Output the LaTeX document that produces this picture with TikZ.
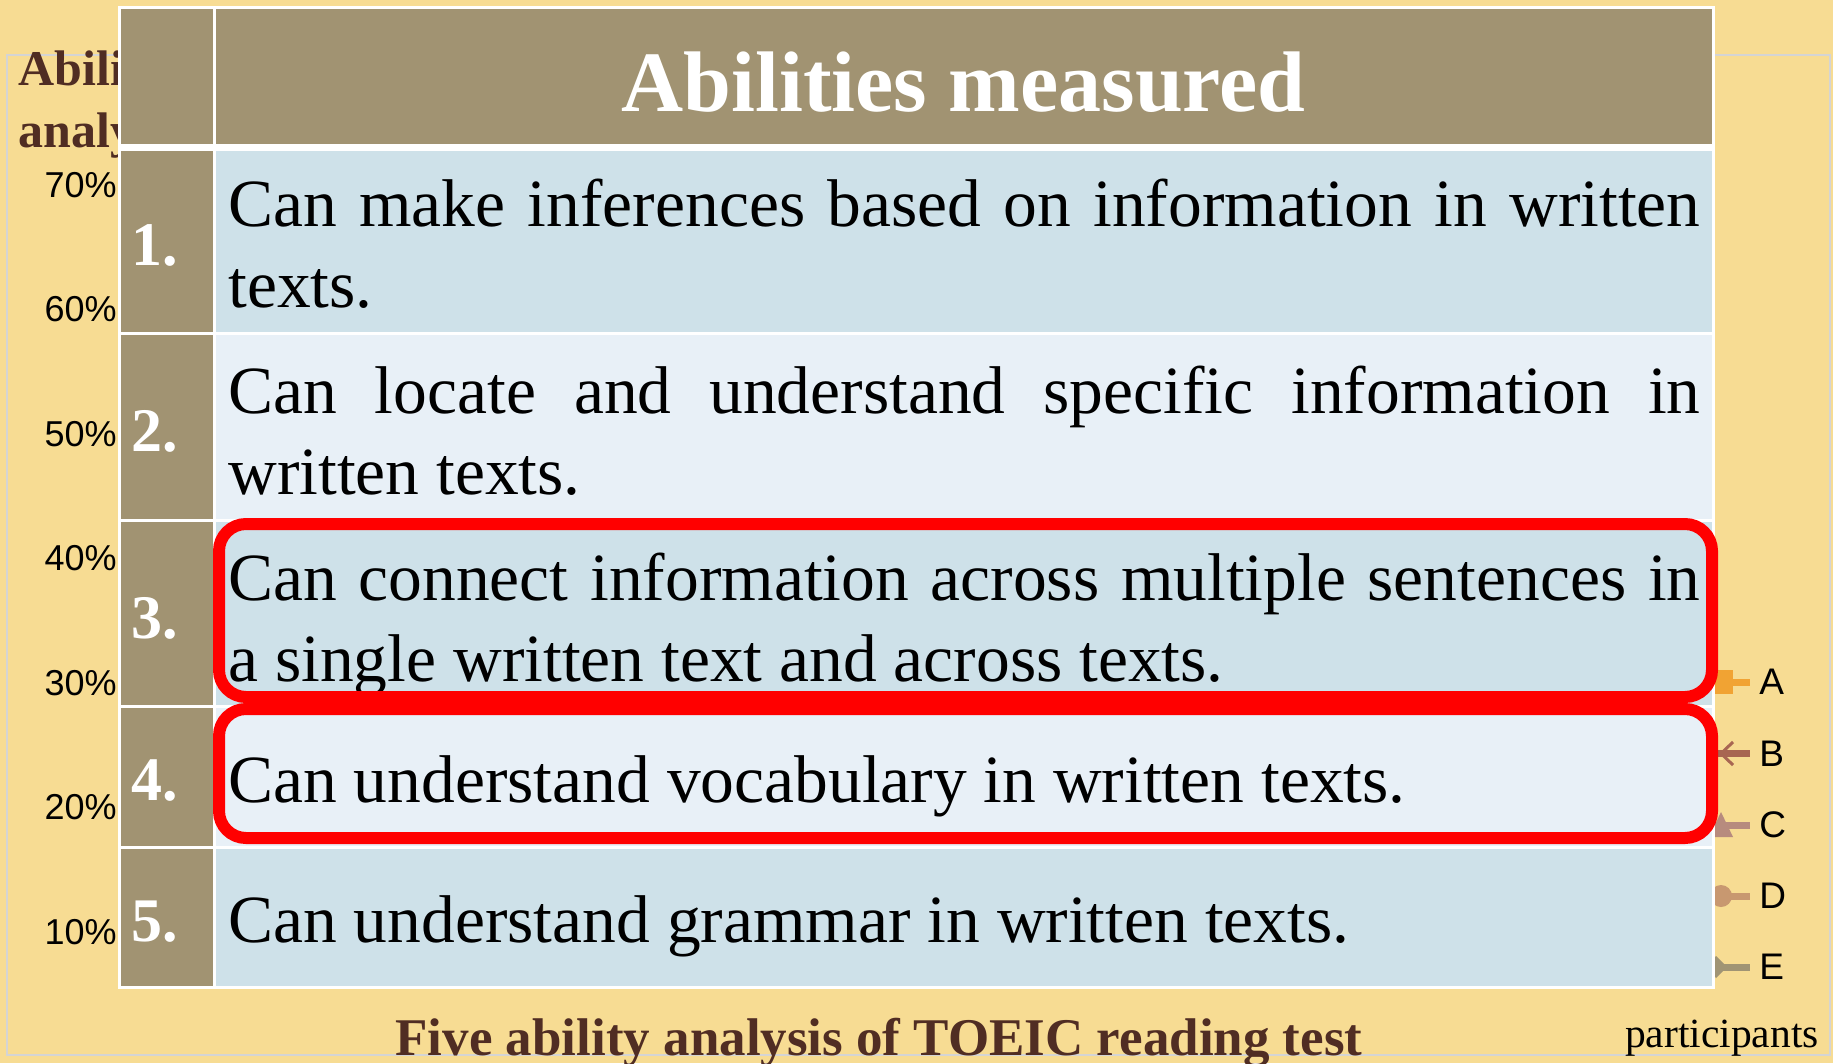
\documentclass[tikz,border=0pt]{standalone}
\usepackage{fontspec}
\setmainfont{Liberation Serif}
\setsansfont{Liberation Sans}

\definecolor{paper}{RGB}{247,220,147}
\definecolor{framegray}{RGB}{212,212,212}
\definecolor{headfill}{RGB}{161,147,114}
\definecolor{rowdark}{RGB}{206,225,233}
\definecolor{rowlight}{RGB}{232,240,247}
\definecolor{hired}{RGB}{255,0,0}
\definecolor{titlebrown}{RGB}{80,45,35}
\definecolor{legA}{RGB}{241,163,51}
\definecolor{legB}{RGB}{168,102,82}
\definecolor{legC}{RGB}{183,139,126}
\definecolor{legD}{RGB}{200,152,112}
\definecolor{legE}{RGB}{160,148,116}

\tikzset{every picture/.style={line width=0.75pt}}
\tikzset{
  rowtext/.style={anchor=north west, inner sep=0pt, text width=1472pt, align=justify, font=\fontsize{67.5}{81}\selectfont},
  numtext/.style={anchor=west, inner sep=0pt, text=white, font=\bfseries\fontsize{62}{62}\selectfont},
  axistext/.style={anchor=east, inner sep=0pt, font=\sffamily\fontsize{36}{36}\selectfont},
  legendtext/.style={anchor=west, inner sep=0pt, font=\sffamily\fontsize{37}{37}\selectfont},
  legendline/.style={line width=7pt},
  hilite/.style={draw=hired, line width=12pt, rounded corners=27pt},
}

\begin{document}
\begin{tikzpicture}[x=1pt,y=1pt,yscale=-1,xscale=1]
\useasboundingbox (0,0) rectangle (1833,1063);
%Shape: Background
\fill [paper] (0,0) rectangle (1833,1063);
%Shape: Chart frame
\draw [framegray, line width=2pt] (7,55) rectangle (1830,1055);

% Text Node
\node (ytitle1) at (18,85) [anchor=base west, inner sep=0pt, text=titlebrown, font=\bfseries\fontsize{50}{50}\selectfont] {Ability};
% Text Node
\node (ytitle2) at (18,147) [anchor=base west, inner sep=0pt, text=titlebrown, font=\bfseries\fontsize{50}{50}\selectfont] {analysis};

% Text Node
\node (tick70) at (117,184.7) [axistext] {70\%};
% Text Node
\node (tick60) at (117,309.2) [axistext] {60\%};
% Text Node
\node (tick50) at (117,433.7) [axistext] {50\%};
% Text Node
\node (tick40) at (117,558.2) [axistext] {40\%};
% Text Node
\node (tick30) at (117,682.7) [axistext] {30\%};
% Text Node
\node (tick20) at (117,807.2) [axistext] {20\%};
% Text Node
\node (tick10) at (117,931.7) [axistext] {10\%};

%Legend A: square
\draw [legA, legendline] (1712,682) -- (1750,682) ;
\fill [legA] (1709,670) rectangle (1733,694) ;
%Legend B: arrow
\draw [legB, legendline] (1712,753.5) -- (1750,753.5) ;
\draw [legB, line width=3pt] (1733,742) -- (1721,753.5) -- (1733,765) ;
%Legend C: triangle
\draw [legC, legendline] (1712,825) -- (1750,825) ;
\fill [legC] (1721,812) -- (1733,837) -- (1709,837) -- cycle ;
%Legend D: circle
\draw [legD, legendline] (1712,896) -- (1750,896) ;
\fill [legD] (1721,896) circle [radius=11] ;
%Legend E: diamond
\draw [legE, legendline] (1712,967) -- (1750,967) ;
\fill [legE] (1716,956) -- (1727,967) -- (1716,978) -- (1705,967) -- cycle ;

% Text Node
\node (legtextA) at (1759,682) [legendtext] {A};
% Text Node
\node (legtextB) at (1759,753.5) [legendtext] {B};
% Text Node
\node (legtextC) at (1759,825) [legendtext] {C};
% Text Node
\node (legtextD) at (1759,896) [legendtext] {D};
% Text Node
\node (legtextE) at (1759,967) [legendtext] {E};

%Shape: Table
\fill [white] (118,6) rectangle (1715,989) ;
\fill [headfill] (121,9) rectangle (213,144) ;
\fill [headfill] (216,9) rectangle (1712,144) ;
\fill [headfill] (121,151) rectangle (213,332) ;
\fill [rowdark] (216,151) rectangle (1712,332) ;
\fill [headfill] (121,335) rectangle (213,519) ;
\fill [rowlight] (216,335) rectangle (1712,519) ;
\fill [headfill] (121,522) rectangle (213,705) ;
\fill [rowdark] (216,522) rectangle (1712,705) ;
\fill [headfill] (121,708) rectangle (213,846) ;
\fill [rowlight] (216,708) rectangle (1712,846) ;
\fill [headfill] (121,849) rectangle (213,986) ;
\fill [rowdark] (216,849) rectangle (1712,986) ;

% Text Node
\node (header) at (963.5,111) [anchor=base, inner sep=0pt, text=white, font=\bfseries\fontsize{86}{86}\selectfont] {Abilities measured};

% Text Node
\node (num1) at (131,245) [numtext] {1.};
% Text Node
\node (num2) at (131,431) [numtext] {2.};
% Text Node
\node (num3) at (131,618) [numtext] {3.};
% Text Node
\node (num4) at (131,781) [numtext] {4.};
% Text Node
\node (num5) at (131,922) [numtext] {5.};

% Text Node
\node (ability1) at (228,179) [rowtext] {Can make inferences based on information in written\linebreak texts.};
% Text Node
\node (ability2) at (228,366) [rowtext] {Can locate and understand specific information in\linebreak written texts.};
% Text Node
\node (ability3) at (228,553) [rowtext] {Can connect information across multiple sentences in\linebreak a single written text and across texts.};
% Text Node
\node (ability4) at (228,755) [rowtext] {Can understand vocabulary in written texts.};
% Text Node
\node (ability5) at (228,895) [rowtext] {Can understand grammar in written texts.};

%Shape: Highlight boxes
\draw [hilite] (219,524) rectangle (1712,697) ;
\draw [hilite] (219,709) rectangle (1712,838) ;

% Text Node
\node (xtitle) at (879,1055) [anchor=base, inner sep=0pt, text=titlebrown, font=\bfseries\fontsize{53}{53}\selectfont] {Five ability analysis of TOEIC reading test};
% Text Node
\node (xlabel) at (1819,1047) [anchor=base east, inner sep=0pt, font=\fontsize{41.5}{41.5}\selectfont] {participants};

\end{tikzpicture}
\end{document}
